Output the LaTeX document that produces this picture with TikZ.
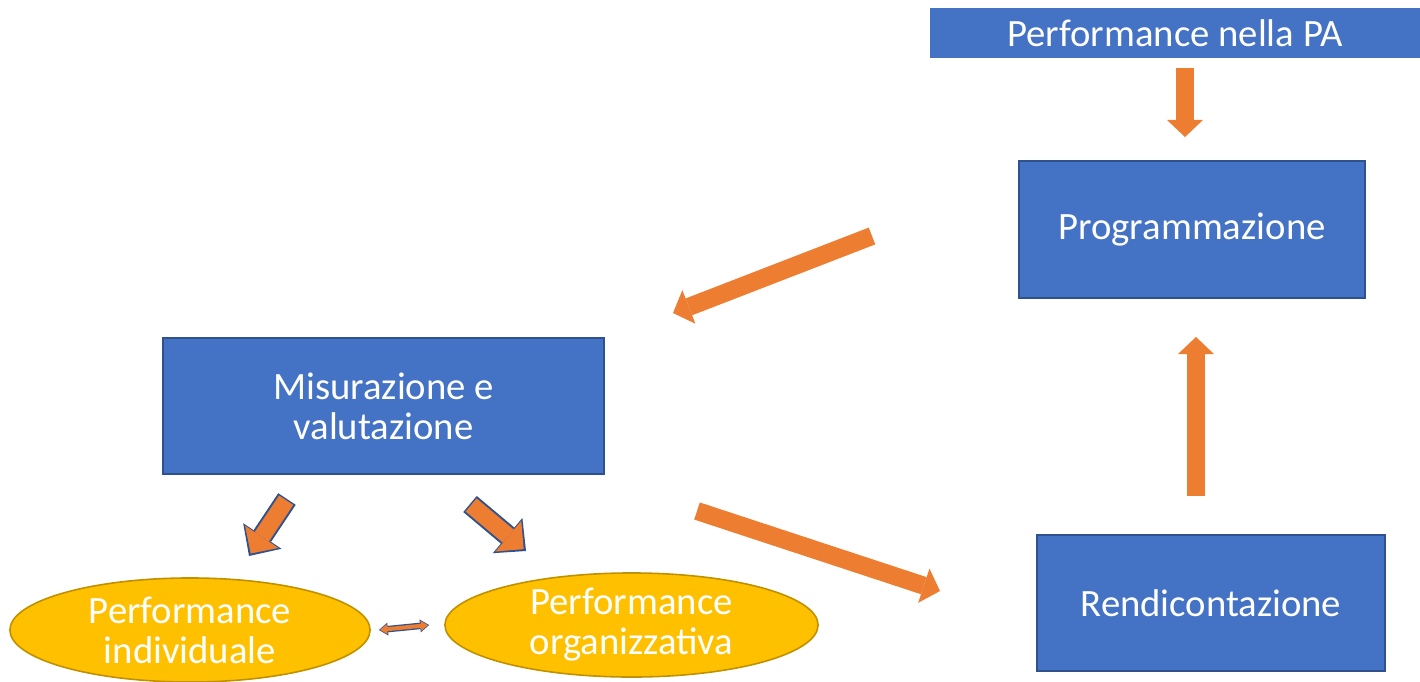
\documentclass[tikz,border=0pt]{standalone}
\usepackage{fontspec}
\setmainfont{Carlito}
\usetikzlibrary{shapes.geometric,arrows.meta}
\definecolor{boxblue}{HTML}{4472C4}
\definecolor{edgeblue}{HTML}{2F528F}
\definecolor{arrorange}{HTML}{ED7D31}
\definecolor{ellyellow}{HTML}{FFC000}
\definecolor{ellgold}{HTML}{BF9000}

\begin{document}
\begin{tikzpicture}[x=0.01cm, y=-0.01cm,
    every node/.style={text=white, font=\fontsize{11}{11.4}\selectfont, align=center, inner sep=0pt},
    bluebox/.style={draw=edgeblue, fill=boxblue, line width=0.45pt},
    yellowell/.style={ellipse, draw=ellgold, fill=ellyellow, line width=0.45pt},
    fatarrow/.style={draw=arrorange, line width=0.18cm,
        -{Triangle[width=0.36cm, length=0.17cm, line width=0pt]}},
    rimarrow/.style={draw=arrorange, line width=0.17cm, shorten >=0.03cm, shorten <=0.015cm,
        -{Triangle[width=0.40cm, length=0.20cm, line width=0pt]},
        preaction={draw=edgeblue, line width=0.21cm, shorten >=0pt, shorten <=0pt,
        -{Triangle[width=0.46cm, length=0.24cm, line width=0pt]}}}
  ]
  \useasboundingbox (0,0) rectangle (1420,681);

  % boxes
  \node[bluebox, draw=none, minimum width=4.9cm, minimum height=0.49cm] (pa) at (1175,33) {Performance nella PA};
  \node[bluebox, minimum width=3.46cm, minimum height=1.37cm] (prog) at (1192,229.5) {Programmazione};
  \node[bluebox, minimum width=3.48cm, minimum height=1.36cm] (rend) at (1211,603) {Rendicontazione};
  \node[bluebox, minimum width=4.41cm, minimum height=1.36cm] (misura) at (383.5,406) {Misurazione e\\valutazione};

  % ellipses
  \node[yellowell, minimum width=3.6cm, minimum height=1.04cm] (indiv) at (190,630) {Performance\\individuale};
  \node[yellowell, minimum width=3.73cm, minimum height=1.04cm] (organ) at (631.5,625) {Performance\\organizzativa};

  % arrow ends
  \coordinate (paA) at (1185,68);   \coordinate (paB) at (1185,137);
  \coordinate (reA) at (1196,496);  \coordinate (reB) at (1196,337);
  \coordinate (prA) at (872,236);   \coordinate (prB) at (673,313);
  \coordinate (miA) at (697,511);   \coordinate (miB) at (940,591);
  \coordinate (inA) at (287,499);   \coordinate (inB) at (249,556);
  \coordinate (orA) at (470,504);   \coordinate (orB) at (526,551);

  \draw[fatarrow] (paA) -- (paB);
  \draw[fatarrow] (reA) -- (reB);
  \draw[fatarrow] (prA) -- (prB);
  \draw[fatarrow] (miA) -- (miB);
  \draw[rimarrow] (inA) -- (inB);
  \draw[rimarrow] (orA) -- (orB);

  % double arrow between the ellipses
  \draw[draw=arrorange, line width=0.04cm, shorten >=0.012cm, shorten <=0.012cm,
      {Triangle[width=0.1cm, length=0.07cm, line width=0pt]}-{Triangle[width=0.1cm, length=0.07cm, line width=0pt]},
      preaction={draw=edgeblue, line width=0.065cm, shorten >=0pt, shorten <=0pt,
      {Triangle[width=0.13cm, length=0.09cm, line width=0pt]}-{Triangle[width=0.13cm, length=0.09cm, line width=0pt]}}]
      ([xshift=0.08cm]indiv.east) -- ([xshift=-0.15cm]organ.west);
\end{tikzpicture}
\end{document}
